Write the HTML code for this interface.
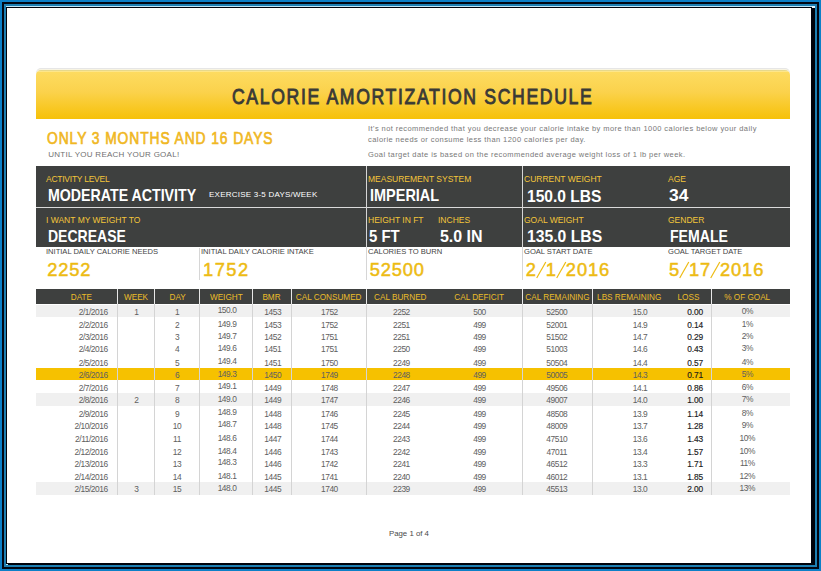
<!DOCTYPE html>
<html><head><meta charset="utf-8">
<style>
*{margin:0;padding:0;box-sizing:border-box}
html,body{width:821px;height:571px;overflow:hidden;background:#0d80c7;font-family:"Liberation Sans",sans-serif}
.a{position:absolute}
.t{position:absolute;line-height:1;white-space:nowrap}
#b1{left:2px;top:2px;right:2px;bottom:2px;background:#010714}
#b2{left:4px;top:4px;right:4px;bottom:4px;background:#1d7fb2}
#b3{left:6px;top:6px;width:809px;height:559px;background:#00030c}
#hl{left:6px;top:6px;width:809px;height:1px;background:#bfe6f8}
#pg{left:7px;top:8px;width:804px;height:555px;background:#fff}
#banner{left:36px;top:70px;width:754px;height:49px;border-radius:5px 5px 0 0;
 background:linear-gradient(#e6d88c 0,#e6d88c 1px,#fde68a 1px,#fde68a 2px,#fddb60 2px,#fbd24c 45%,#f6c108);box-shadow:0 -1px 0 #f8f4e2,0 -2px 0 #e6e6e6}
#title{left:232px;top:86.6px;font-size:21.5px;font-weight:normal;-webkit-text-stroke:0.9px #3a3a36;color:#3a3a36;letter-spacing:2px;transform-origin:0 0;transform:scaleX(0.82)}
.gold{color:#f0b81f}
.lbl{font-size:8.5px;color:#f4c63a;letter-spacing:0px}
.val{font-size:16.3px;font-weight:bold;color:#fff;transform-origin:0 0}
.lbl2{font-size:7.6px;color:#444;letter-spacing:-0.02px}
.num{font-size:18.3px;color:#edbb12;letter-spacing:0.85px;-webkit-text-stroke:0.5px #edbb12}
.sl{display:inline-block;vertical-align:-2.5px;overflow:visible}
#dark{left:36px;top:166px;width:754px;height:80.5px;background:#3e403f}
.hln{background:#dadada}
.vln{background:#d6d6d6;width:1px}
.note{font-size:7.5px;color:#787878;letter-spacing:0.43px}
.th{font-size:8.2px;color:#ebbd2a;text-align:center}
.td{font-size:8.4px;color:#606060;letter-spacing:-0.45px}
.td.b{color:#1a1a1a;-webkit-text-stroke:0.15px #1a1a1a;letter-spacing:-0.1px}
</style></head><body>
<div class="a" id="b1"></div>
<div class="a" id="b2"></div>
<div class="a" id="b3"></div>
<div class="a" id="hl"></div>
<div class="a" id="pg"></div>
<div class="a" style="left:812px;top:6px;width:3px;height:2px;background:#e8f6fc"></div>
<div class="a" style="left:6px;top:564px;width:2px;height:1px;background:#b8e4f0"></div>

<div class="a" id="banner"></div>
<div class="t" id="title">CALORIE AMORTIZATION SCHEDULE</div>

<div class="t gold" style="left:47.4px;top:131.3px;font-size:15.9px;-webkit-text-stroke:0.65px #f0b722;color:#f0b722;letter-spacing:1.05px;transform-origin:0 0;transform:scaleX(0.87)">ONLY 3 MONTHS AND 16 DAYS</div>
<div class="t" style="left:48.3px;top:150.7px;font-size:8px;color:#707070;letter-spacing:0.26px">UNTIL YOU REACH YOUR GOAL!</div>

<div class="t note" style="left:368px;top:125px">It's not recommended that you decrease your calorie intake by more than 1000 calories below your daily</div>
<div class="t note" style="left:368px;top:136.3px">calorie needs or consume less than 1200 calories per day.</div>
<div class="t note" style="left:368px;top:151px">Goal target date is based on the recommended average weight loss of 1 lb per week.</div>

<div class="a" id="dark"></div>
<div class="a hln" style="left:36px;top:207px;width:754px;height:1px"></div>
<div class="a vln" style="left:366px;top:166px;height:114px"></div>
<div class="a vln" style="left:522px;top:166px;height:114px"></div>
<div class="a vln" style="left:199px;top:248px;height:32px"></div>

<div class="t lbl" style="left:46px;top:174.8px;letter-spacing:-0.25px">ACTIVITY LEVEL</div>
<div class="t val" style="left:48px;top:186.5px;transform:scaleX(0.871)">MODERATE ACTIVITY</div>
<div class="t" style="left:209px;top:191.2px;font-size:8px;color:#fff;letter-spacing:0.23px">EXERCISE 3-5 DAYS/WEEK</div>
<div class="t lbl" style="left:368px;top:174.8px">MEASUREMENT SYSTEM</div>
<div class="t val" style="left:370px;top:186.5px;transform:scaleX(0.889)">IMPERIAL</div>
<div class="t lbl" style="left:524px;top:174.8px">CURRENT WEIGHT</div>
<div class="t val" style="left:527px;top:187.5px;transform:scaleX(0.957)">150.0 LBS</div>
<div class="t lbl" style="left:668px;top:174.8px">AGE</div>
<div class="t val" style="left:669px;top:187px;transform:scaleX(1.07)">34</div>

<div class="t lbl" style="left:46px;top:215.6px">I WANT MY WEIGHT TO</div>
<div class="t val" style="left:48px;top:227.6px;transform:scaleX(0.86)">DECREASE</div>
<div class="t lbl" style="left:368px;top:215.6px">HEIGHT IN FT</div>
<div class="t val" style="left:369px;top:227.6px;transform:scaleX(0.916)">5 FT</div>
<div class="t lbl" style="left:438px;top:215.6px">INCHES</div>
<div class="t val" style="left:439.5px;top:227.6px;transform:scaleX(0.98)">5.0 IN</div>
<div class="t lbl" style="left:524px;top:215.6px">GOAL WEIGHT</div>
<div class="t val" style="left:527px;top:227.6px;transform:scaleX(0.965)">135.0 LBS</div>
<div class="t lbl" style="left:668px;top:215.6px">GENDER</div>
<div class="t val" style="left:669.5px;top:227.6px;transform:scaleX(0.867)">FEMALE</div>

<div class="t lbl2" style="left:46px;top:248.4px">INITIAL DAILY CALORIE NEEDS</div>
<div class="t num" style="left:47.3px;top:260.7px">2252</div>
<div class="t lbl2" style="left:201px;top:248.4px">INITIAL DAILY CALORIE INTAKE</div>
<div class="t num" style="left:203px;top:260.7px;letter-spacing:1.5px">1752</div>
<div class="t lbl2" style="left:368px;top:248.4px">CALORIES TO BURN</div>
<div class="t num" style="left:369.8px;top:260.7px">52500</div>
<div class="t lbl2" style="left:524px;top:248.4px">GOAL START DATE</div>
<div class="t num" style="left:525.8px;top:260.7px">2<svg class="sl" width="9" height="16" viewBox="0 0 9 16"><line x1="-0.3" y1="16" x2="8.8" y2="0" stroke="#edbb12" stroke-width="1.2"/></svg>1<svg class="sl" width="9" height="16" viewBox="0 0 9 16"><line x1="-0.3" y1="16" x2="8.8" y2="0" stroke="#edbb12" stroke-width="1.2"/></svg>2016</div>
<div class="t lbl2" style="left:668px;top:248.4px">GOAL TARGET DATE</div>
<div class="t num" style="left:669px;top:260.7px">5<svg class="sl" width="9" height="16" viewBox="0 0 9 16"><line x1="-0.3" y1="16" x2="8.8" y2="0" stroke="#edbb12" stroke-width="1.2"/></svg>17<svg class="sl" width="9" height="16" viewBox="0 0 9 16"><line x1="-0.3" y1="16" x2="8.8" y2="0" stroke="#edbb12" stroke-width="1.2"/></svg>2016</div>

<div class="a" style="left:36px;top:289px;width:754px;height:14.5px;background:#3e403f"></div>
<div class="a" style="left:36px;top:305px;width:754px;height:12.00px;background:#f0f0f0"></div>
<div class="a" style="left:36px;top:368px;width:754px;height:11.60px;background:#f6c100"></div>
<div class="a" style="left:36px;top:393px;width:754px;height:13.20px;background:#f0f0f0"></div>
<div class="a" style="left:36px;top:482px;width:754px;height:13.00px;background:#f0f0f0"></div>
<div class="a" style="left:117.0px;top:289px;width:1px;height:14.5px;background:#e8e8e8"></div>
<div class="a" style="left:117.0px;top:303.5px;width:1px;height:191.50px;background:#d4d4d4"></div>
<div class="a" style="left:154.0px;top:289px;width:1px;height:14.5px;background:#e8e8e8"></div>
<div class="a" style="left:154.0px;top:303.5px;width:1px;height:191.50px;background:#d4d4d4"></div>
<div class="a" style="left:199.0px;top:289px;width:1px;height:14.5px;background:#e8e8e8"></div>
<div class="a" style="left:199.0px;top:303.5px;width:1px;height:191.50px;background:#d4d4d4"></div>
<div class="a" style="left:252.0px;top:289px;width:1px;height:14.5px;background:#e8e8e8"></div>
<div class="a" style="left:252.0px;top:303.5px;width:1px;height:191.50px;background:#d4d4d4"></div>
<div class="a" style="left:290.5px;top:289px;width:1px;height:14.5px;background:#e8e8e8"></div>
<div class="a" style="left:290.5px;top:303.5px;width:1px;height:191.50px;background:#d4d4d4"></div>
<div class="a" style="left:366.0px;top:289px;width:1px;height:14.5px;background:#e8e8e8"></div>
<div class="a" style="left:366.0px;top:303.5px;width:1px;height:191.50px;background:#d4d4d4"></div>
<div class="a" style="left:522.0px;top:289px;width:1px;height:14.5px;background:#e8e8e8"></div>
<div class="a" style="left:522.0px;top:303.5px;width:1px;height:191.50px;background:#d4d4d4"></div>
<div class="a" style="left:592.0px;top:289px;width:1px;height:14.5px;background:#e8e8e8"></div>
<div class="a" style="left:592.0px;top:303.5px;width:1px;height:191.50px;background:#d4d4d4"></div>
<div class="a" style="left:711.0px;top:289px;width:1px;height:14.5px;background:#e8e8e8"></div>
<div class="a" style="left:711.0px;top:303.5px;width:1px;height:191.50px;background:#d4d4d4"></div>
<div class="t th" style="left:-18.599999999999994px;width:200px;top:293.9px">DATE</div>
<div class="t th" style="left:36px;width:200px;top:293.9px">WEEK</div>
<div class="t th" style="left:77.6px;width:200px;top:293.9px">DAY</div>
<div class="t th" style="left:126.30000000000001px;width:200px;top:293.9px">WEIGHT</div>
<div class="t th" style="left:171.5px;width:200px;top:293.9px">BMR</div>
<div class="t th" style="left:228.7px;width:200px;top:293.9px">CAL CONSUMED</div>
<div class="t th" style="left:300.3px;width:200px;top:293.9px">CAL BURNED</div>
<div class="t th" style="left:379.2px;width:200px;top:293.9px">CAL DEFICIT</div>
<div class="t th" style="left:457.5px;width:200px;top:293.9px">CAL REMAINING</div>
<div class="t th" style="left:529.2px;width:200px;top:293.9px">LBS REMAINING</div>
<div class="t th" style="left:588.5px;width:200px;top:293.9px">LOSS</div>
<div class="t th" style="left:647.2px;width:200px;top:293.9px">% OF GOAL</div>
<div class="t td" style="right:713.3px;top:307.69px">2/1/2016</div>
<div class="t td" style="left:86.30000000000001px;width:100px;text-align:center;top:307.69px">1</div>
<div class="t td" style="left:127px;width:100px;text-align:center;top:307.69px">1</div>
<div class="t td" style="left:177px;width:100px;text-align:center;top:306.39px">150.0</div>
<div class="t td" style="left:222.7px;width:100px;text-align:center;top:307.69px">1453</div>
<div class="t td" style="left:279.4px;width:100px;text-align:center;top:307.69px">1752</div>
<div class="t td" style="left:351.4px;width:100px;text-align:center;top:307.69px">2252</div>
<div class="t td" style="left:429.5px;width:100px;text-align:center;top:307.69px">500</div>
<div class="t td" style="left:506.79999999999995px;width:100px;text-align:center;top:307.69px">52500</div>
<div class="t td" style="left:590px;width:100px;text-align:center;top:307.69px">15.0</div>
<div class="t td b" style="right:117.89999999999998px;top:307.69px">0.00</div>
<div class="t td" style="left:697.3px;width:100px;text-align:center;top:306.69px">0%</div>
<div class="t td" style="right:713.3px;top:320.99px">2/2/2016</div>
<div class="t td" style="left:127px;width:100px;text-align:center;top:320.99px">2</div>
<div class="t td" style="left:177px;width:100px;text-align:center;top:319.69px">149.9</div>
<div class="t td" style="left:222.7px;width:100px;text-align:center;top:320.99px">1453</div>
<div class="t td" style="left:279.4px;width:100px;text-align:center;top:320.99px">1752</div>
<div class="t td" style="left:351.4px;width:100px;text-align:center;top:320.99px">2251</div>
<div class="t td" style="left:429.5px;width:100px;text-align:center;top:320.99px">499</div>
<div class="t td" style="left:506.79999999999995px;width:100px;text-align:center;top:320.99px">52001</div>
<div class="t td" style="left:590px;width:100px;text-align:center;top:320.99px">14.9</div>
<div class="t td b" style="right:117.89999999999998px;top:320.99px">0.14</div>
<div class="t td" style="left:697.3px;width:100px;text-align:center;top:319.99px">1%</div>
<div class="t td" style="right:713.3px;top:333.49px">2/3/2016</div>
<div class="t td" style="left:127px;width:100px;text-align:center;top:333.49px">3</div>
<div class="t td" style="left:177px;width:100px;text-align:center;top:332.19px">149.7</div>
<div class="t td" style="left:222.7px;width:100px;text-align:center;top:333.49px">1452</div>
<div class="t td" style="left:279.4px;width:100px;text-align:center;top:333.49px">1751</div>
<div class="t td" style="left:351.4px;width:100px;text-align:center;top:333.49px">2251</div>
<div class="t td" style="left:429.5px;width:100px;text-align:center;top:333.49px">499</div>
<div class="t td" style="left:506.79999999999995px;width:100px;text-align:center;top:333.49px">51502</div>
<div class="t td" style="left:590px;width:100px;text-align:center;top:333.49px">14.7</div>
<div class="t td b" style="right:117.89999999999998px;top:333.49px">0.29</div>
<div class="t td" style="left:697.3px;width:100px;text-align:center;top:332.49px">2%</div>
<div class="t td" style="right:713.3px;top:345.49px">2/4/2016</div>
<div class="t td" style="left:127px;width:100px;text-align:center;top:345.49px">4</div>
<div class="t td" style="left:177px;width:100px;text-align:center;top:344.19px">149.6</div>
<div class="t td" style="left:222.7px;width:100px;text-align:center;top:345.49px">1451</div>
<div class="t td" style="left:279.4px;width:100px;text-align:center;top:345.49px">1751</div>
<div class="t td" style="left:351.4px;width:100px;text-align:center;top:345.49px">2250</div>
<div class="t td" style="left:429.5px;width:100px;text-align:center;top:345.49px">499</div>
<div class="t td" style="left:506.79999999999995px;width:100px;text-align:center;top:345.49px">51003</div>
<div class="t td" style="left:590px;width:100px;text-align:center;top:345.49px">14.6</div>
<div class="t td b" style="right:117.89999999999998px;top:345.49px">0.43</div>
<div class="t td" style="left:697.3px;width:100px;text-align:center;top:344.49px">3%</div>
<div class="t td" style="right:713.3px;top:358.69px">2/5/2016</div>
<div class="t td" style="left:127px;width:100px;text-align:center;top:358.69px">5</div>
<div class="t td" style="left:177px;width:100px;text-align:center;top:357.39px">149.4</div>
<div class="t td" style="left:222.7px;width:100px;text-align:center;top:358.69px">1451</div>
<div class="t td" style="left:279.4px;width:100px;text-align:center;top:358.69px">1750</div>
<div class="t td" style="left:351.4px;width:100px;text-align:center;top:358.69px">2249</div>
<div class="t td" style="left:429.5px;width:100px;text-align:center;top:358.69px">499</div>
<div class="t td" style="left:506.79999999999995px;width:100px;text-align:center;top:358.69px">50504</div>
<div class="t td" style="left:590px;width:100px;text-align:center;top:358.69px">14.4</div>
<div class="t td b" style="right:117.89999999999998px;top:358.69px">0.57</div>
<div class="t td" style="left:697.3px;width:100px;text-align:center;top:357.69px">4%</div>
<div class="t td" style="right:713.3px;top:371.29px">2/6/2016</div>
<div class="t td" style="left:127px;width:100px;text-align:center;top:371.29px">6</div>
<div class="t td" style="left:177px;width:100px;text-align:center;top:369.99px">149.3</div>
<div class="t td" style="left:222.7px;width:100px;text-align:center;top:371.29px">1450</div>
<div class="t td" style="left:279.4px;width:100px;text-align:center;top:371.29px">1749</div>
<div class="t td" style="left:351.4px;width:100px;text-align:center;top:371.29px">2248</div>
<div class="t td" style="left:429.5px;width:100px;text-align:center;top:371.29px">499</div>
<div class="t td" style="left:506.79999999999995px;width:100px;text-align:center;top:371.29px">50005</div>
<div class="t td" style="left:590px;width:100px;text-align:center;top:371.29px">14.3</div>
<div class="t td b" style="right:117.89999999999998px;top:371.29px">0.71</div>
<div class="t td" style="left:697.3px;width:100px;text-align:center;top:370.29px">5%</div>
<div class="t td" style="right:713.3px;top:383.69px">2/7/2016</div>
<div class="t td" style="left:127px;width:100px;text-align:center;top:383.69px">7</div>
<div class="t td" style="left:177px;width:100px;text-align:center;top:382.39px">149.1</div>
<div class="t td" style="left:222.7px;width:100px;text-align:center;top:383.69px">1449</div>
<div class="t td" style="left:279.4px;width:100px;text-align:center;top:383.69px">1748</div>
<div class="t td" style="left:351.4px;width:100px;text-align:center;top:383.69px">2247</div>
<div class="t td" style="left:429.5px;width:100px;text-align:center;top:383.69px">499</div>
<div class="t td" style="left:506.79999999999995px;width:100px;text-align:center;top:383.69px">49506</div>
<div class="t td" style="left:590px;width:100px;text-align:center;top:383.69px">14.1</div>
<div class="t td b" style="right:117.89999999999998px;top:383.69px">0.86</div>
<div class="t td" style="left:697.3px;width:100px;text-align:center;top:382.69px">6%</div>
<div class="t td" style="right:713.3px;top:396.29px">2/8/2016</div>
<div class="t td" style="left:86.30000000000001px;width:100px;text-align:center;top:396.29px">2</div>
<div class="t td" style="left:127px;width:100px;text-align:center;top:396.29px">8</div>
<div class="t td" style="left:177px;width:100px;text-align:center;top:394.99px">149.0</div>
<div class="t td" style="left:222.7px;width:100px;text-align:center;top:396.29px">1449</div>
<div class="t td" style="left:279.4px;width:100px;text-align:center;top:396.29px">1747</div>
<div class="t td" style="left:351.4px;width:100px;text-align:center;top:396.29px">2246</div>
<div class="t td" style="left:429.5px;width:100px;text-align:center;top:396.29px">499</div>
<div class="t td" style="left:506.79999999999995px;width:100px;text-align:center;top:396.29px">49007</div>
<div class="t td" style="left:590px;width:100px;text-align:center;top:396.29px">14.0</div>
<div class="t td b" style="right:117.89999999999998px;top:396.29px">1.00</div>
<div class="t td" style="left:697.3px;width:100px;text-align:center;top:395.29px">7%</div>
<div class="t td" style="right:713.3px;top:409.59px">2/9/2016</div>
<div class="t td" style="left:127px;width:100px;text-align:center;top:409.59px">9</div>
<div class="t td" style="left:177px;width:100px;text-align:center;top:408.29px">148.9</div>
<div class="t td" style="left:222.7px;width:100px;text-align:center;top:409.59px">1448</div>
<div class="t td" style="left:279.4px;width:100px;text-align:center;top:409.59px">1746</div>
<div class="t td" style="left:351.4px;width:100px;text-align:center;top:409.59px">2245</div>
<div class="t td" style="left:429.5px;width:100px;text-align:center;top:409.59px">499</div>
<div class="t td" style="left:506.79999999999995px;width:100px;text-align:center;top:409.59px">48508</div>
<div class="t td" style="left:590px;width:100px;text-align:center;top:409.59px">13.9</div>
<div class="t td b" style="right:117.89999999999998px;top:409.59px">1.14</div>
<div class="t td" style="left:697.3px;width:100px;text-align:center;top:408.59px">8%</div>
<div class="t td" style="right:713.3px;top:421.79px">2/10/2016</div>
<div class="t td" style="left:127px;width:100px;text-align:center;top:421.79px">10</div>
<div class="t td" style="left:177px;width:100px;text-align:center;top:420.49px">148.7</div>
<div class="t td" style="left:222.7px;width:100px;text-align:center;top:421.79px">1448</div>
<div class="t td" style="left:279.4px;width:100px;text-align:center;top:421.79px">1745</div>
<div class="t td" style="left:351.4px;width:100px;text-align:center;top:421.79px">2244</div>
<div class="t td" style="left:429.5px;width:100px;text-align:center;top:421.79px">499</div>
<div class="t td" style="left:506.79999999999995px;width:100px;text-align:center;top:421.79px">48009</div>
<div class="t td" style="left:590px;width:100px;text-align:center;top:421.79px">13.7</div>
<div class="t td b" style="right:117.89999999999998px;top:421.79px">1.28</div>
<div class="t td" style="left:697.3px;width:100px;text-align:center;top:420.79px">9%</div>
<div class="t td" style="right:713.3px;top:434.89px">2/11/2016</div>
<div class="t td" style="left:127px;width:100px;text-align:center;top:434.89px">11</div>
<div class="t td" style="left:177px;width:100px;text-align:center;top:433.59px">148.6</div>
<div class="t td" style="left:222.7px;width:100px;text-align:center;top:434.89px">1447</div>
<div class="t td" style="left:279.4px;width:100px;text-align:center;top:434.89px">1744</div>
<div class="t td" style="left:351.4px;width:100px;text-align:center;top:434.89px">2243</div>
<div class="t td" style="left:429.5px;width:100px;text-align:center;top:434.89px">499</div>
<div class="t td" style="left:506.79999999999995px;width:100px;text-align:center;top:434.89px">47510</div>
<div class="t td" style="left:590px;width:100px;text-align:center;top:434.89px">13.6</div>
<div class="t td b" style="right:117.89999999999998px;top:434.89px">1.43</div>
<div class="t td" style="left:697.3px;width:100px;text-align:center;top:433.89px">10%</div>
<div class="t td" style="right:713.3px;top:447.89px">2/12/2016</div>
<div class="t td" style="left:127px;width:100px;text-align:center;top:447.89px">12</div>
<div class="t td" style="left:177px;width:100px;text-align:center;top:446.59px">148.4</div>
<div class="t td" style="left:222.7px;width:100px;text-align:center;top:447.89px">1446</div>
<div class="t td" style="left:279.4px;width:100px;text-align:center;top:447.89px">1743</div>
<div class="t td" style="left:351.4px;width:100px;text-align:center;top:447.89px">2242</div>
<div class="t td" style="left:429.5px;width:100px;text-align:center;top:447.89px">499</div>
<div class="t td" style="left:506.79999999999995px;width:100px;text-align:center;top:447.89px">47011</div>
<div class="t td" style="left:590px;width:100px;text-align:center;top:447.89px">13.4</div>
<div class="t td b" style="right:117.89999999999998px;top:447.89px">1.57</div>
<div class="t td" style="left:697.3px;width:100px;text-align:center;top:446.89px">10%</div>
<div class="t td" style="right:713.3px;top:459.69px">2/13/2016</div>
<div class="t td" style="left:127px;width:100px;text-align:center;top:459.69px">13</div>
<div class="t td" style="left:177px;width:100px;text-align:center;top:458.39px">148.3</div>
<div class="t td" style="left:222.7px;width:100px;text-align:center;top:459.69px">1446</div>
<div class="t td" style="left:279.4px;width:100px;text-align:center;top:459.69px">1742</div>
<div class="t td" style="left:351.4px;width:100px;text-align:center;top:459.69px">2241</div>
<div class="t td" style="left:429.5px;width:100px;text-align:center;top:459.69px">499</div>
<div class="t td" style="left:506.79999999999995px;width:100px;text-align:center;top:459.69px">46512</div>
<div class="t td" style="left:590px;width:100px;text-align:center;top:459.69px">13.3</div>
<div class="t td b" style="right:117.89999999999998px;top:459.69px">1.71</div>
<div class="t td" style="left:697.3px;width:100px;text-align:center;top:458.69px">11%</div>
<div class="t td" style="right:713.3px;top:472.89px">2/14/2016</div>
<div class="t td" style="left:127px;width:100px;text-align:center;top:472.89px">14</div>
<div class="t td" style="left:177px;width:100px;text-align:center;top:471.59px">148.1</div>
<div class="t td" style="left:222.7px;width:100px;text-align:center;top:472.89px">1445</div>
<div class="t td" style="left:279.4px;width:100px;text-align:center;top:472.89px">1741</div>
<div class="t td" style="left:351.4px;width:100px;text-align:center;top:472.89px">2240</div>
<div class="t td" style="left:429.5px;width:100px;text-align:center;top:472.89px">499</div>
<div class="t td" style="left:506.79999999999995px;width:100px;text-align:center;top:472.89px">46012</div>
<div class="t td" style="left:590px;width:100px;text-align:center;top:472.89px">13.1</div>
<div class="t td b" style="right:117.89999999999998px;top:472.89px">1.85</div>
<div class="t td" style="left:697.3px;width:100px;text-align:center;top:471.89px">12%</div>
<div class="t td" style="right:713.3px;top:485.29px">2/15/2016</div>
<div class="t td" style="left:86.30000000000001px;width:100px;text-align:center;top:485.29px">3</div>
<div class="t td" style="left:127px;width:100px;text-align:center;top:485.29px">15</div>
<div class="t td" style="left:177px;width:100px;text-align:center;top:483.99px">148.0</div>
<div class="t td" style="left:222.7px;width:100px;text-align:center;top:485.29px">1445</div>
<div class="t td" style="left:279.4px;width:100px;text-align:center;top:485.29px">1740</div>
<div class="t td" style="left:351.4px;width:100px;text-align:center;top:485.29px">2239</div>
<div class="t td" style="left:429.5px;width:100px;text-align:center;top:485.29px">499</div>
<div class="t td" style="left:506.79999999999995px;width:100px;text-align:center;top:485.29px">45513</div>
<div class="t td" style="left:590px;width:100px;text-align:center;top:485.29px">13.0</div>
<div class="t td b" style="right:117.89999999999998px;top:485.29px">2.00</div>
<div class="t td" style="left:697.3px;width:100px;text-align:center;top:484.29px">13%</div>

<div class="t" style="left:389px;top:530.3px;font-size:7.8px;color:#4a4a4a">Page 1 of 4</div>
</body></html>
